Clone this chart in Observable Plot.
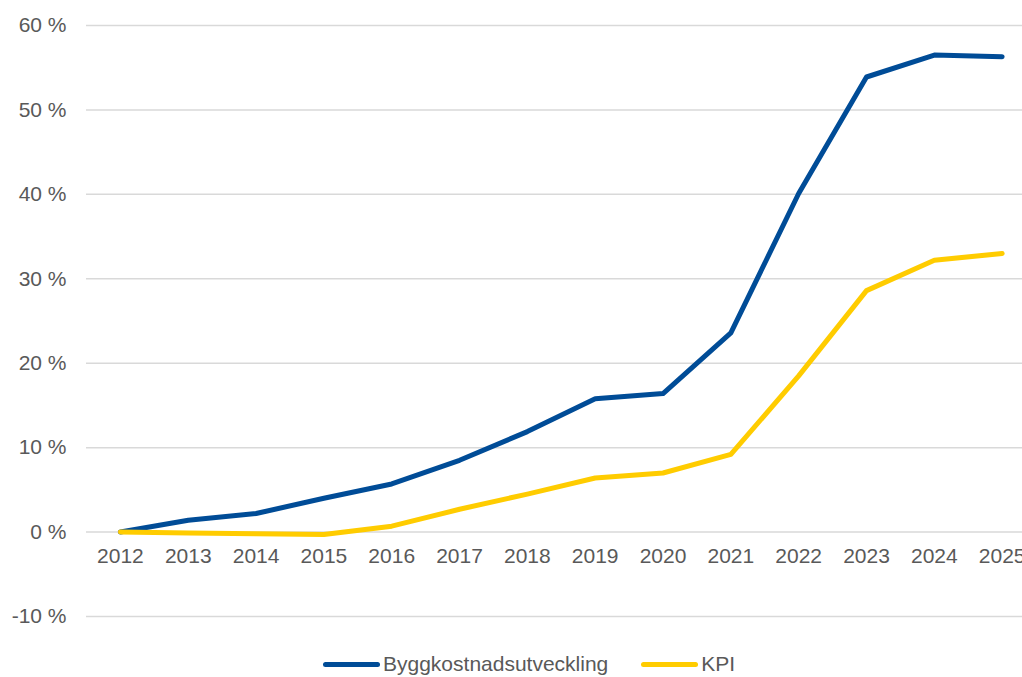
<!DOCTYPE html>
<html>
<head>
<meta charset="utf-8">
<script src="https://cdn.jsdelivr.net/npm/d3@7"></script>
<script src="https://cdn.jsdelivr.net/npm/@observablehq/plot@0.6"></script>
<style>
  html, body { margin: 0; padding: 0; background: #fff; }
  #chart svg { display: block; }
  .legend { display: flex; align-items: center; height: 24px; margin-top: 12px; padding-left: 323px;
            font-family: "Liberation Sans", Arial, sans-serif; font-size: 21px; color: #595959; }
  .legend .sw { width: 57px; height: 5px; border-radius: 3px; margin-right: 3px; }
  .legend .item { display: flex; align-items: center; margin-right: 33px; }
</style>
</head>
<body>
<div id="chart"></div>
<div class="legend" id="legend"></div>
<script>
const years = [2012, 2013, 2014, 2015, 2016, 2017, 2018, 2019, 2020, 2021, 2022, 2023, 2024, 2025];
const bygg  = [0, 1.4, 2.2, 4.0, 5.7, 8.5, 11.9, 15.8, 16.4, 23.6, 40.1, 53.9, 56.5, 56.3];
const kpi   = [0, -0.1, -0.2, -0.3, 0.7, 2.7, 4.5, 6.4, 7.0, 9.2, 18.5, 28.6, 32.2, 33.0];
const seriesNames = ["Byggkostnadsutveckling", "KPI"];
const seriesColors = ["#004C97", "#FFCC00"];
const yTicks = [-10, 0, 10, 20, 30, 40, 50, 60];

const data = [
  ...years.map((y, i) => ({year: y, value: bygg[i], series: seriesNames[0]})),
  ...years.map((y, i) => ({year: y, value: kpi[i], series: seriesNames[1]}))
];

const chart = Plot.plot({
  width: 1022,
  height: 640,
  marginLeft: 86,
  marginRight: 0,
  marginTop: 25,
  marginBottom: 24,
  x: {domain: [2011.5, 2025.3], axis: null},
  y: {domain: [-10, 60], axis: null},
  color: {domain: seriesNames, range: seriesColors},
  style: {fontFamily: "'Liberation Sans', Arial, sans-serif", fontSize: "21px", color: "#595959", background: "white"},
  marks: [
    Plot.gridY(yTicks, {stroke: "#d9d9d9", strokeOpacity: 1, strokeWidth: 1.5}),
    Plot.axisY(yTicks, {tickSize: 0, tickPadding: 20, tickFormat: d => `${d} %`, label: null, fill: "#595959"}),
    Plot.text(years, {x: d => d, y: 0, dy: 24, text: d => String(d), fill: "#595959"}),
    Plot.line(data, {x: "year", y: "value", z: "series", stroke: "series", strokeWidth: 5,
                     strokeLinecap: "round", strokeLinejoin: "round"})
  ]
});
document.getElementById("chart").appendChild(chart);

const legend = document.getElementById("legend");
seriesNames.forEach((name, i) => {
  const item = document.createElement("div");
  item.className = "item";
  const sw = document.createElement("div");
  sw.className = "sw";
  sw.style.background = seriesColors[i];
  const label = document.createElement("span");
  label.textContent = name;
  item.appendChild(sw);
  item.appendChild(label);
  legend.appendChild(item);
});
</script>
</body>
</html>
